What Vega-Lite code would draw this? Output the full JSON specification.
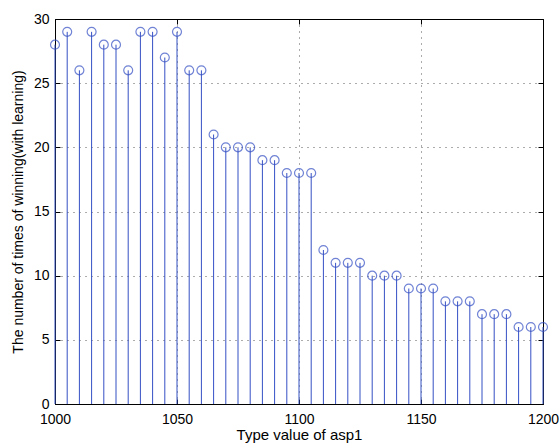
{
  "$schema": "https://vega.github.io/schema/vega-lite/v6.json",
  "autosize": "none",
  "width": 488,
  "height": 385,
  "padding": {"left": 55, "top": 19, "right": 17, "bottom": 40},
  "background": "white",
  "config": {
    "view": {"stroke": "black", "strokeWidth": 1},
    "axis": {
      "labelFont": "Liberation Sans",
      "titleFont": "Liberation Sans",
      "labelFontSize": 14,
      "titleFontSize": 14,
      "labelColor": "black",
      "titleColor": "black",
      "titleFontWeight": "normal",
      "domain": false,
      "tickColor": "black",
      "tickSize": -5,
      "gridColor": "black",
      "gridDash": [1, 5],
      "gridOpacity": 0.65,
      "format": "d"
    }
  },
  "data": {
    "values": [
      {"x": 1000, "y": 28}, {"x": 1005, "y": 29}, {"x": 1010, "y": 26}, {"x": 1015, "y": 29},
      {"x": 1020, "y": 28}, {"x": 1025, "y": 28}, {"x": 1030, "y": 26}, {"x": 1035, "y": 29},
      {"x": 1040, "y": 29}, {"x": 1045, "y": 27}, {"x": 1050, "y": 29}, {"x": 1055, "y": 26},
      {"x": 1060, "y": 26}, {"x": 1065, "y": 21}, {"x": 1070, "y": 20}, {"x": 1075, "y": 20},
      {"x": 1080, "y": 20}, {"x": 1085, "y": 19}, {"x": 1090, "y": 19}, {"x": 1095, "y": 18},
      {"x": 1100, "y": 18}, {"x": 1105, "y": 18}, {"x": 1110, "y": 12}, {"x": 1115, "y": 11},
      {"x": 1120, "y": 11}, {"x": 1125, "y": 11}, {"x": 1130, "y": 10}, {"x": 1135, "y": 10},
      {"x": 1140, "y": 10}, {"x": 1145, "y": 9}, {"x": 1150, "y": 9}, {"x": 1155, "y": 9},
      {"x": 1160, "y": 8}, {"x": 1165, "y": 8}, {"x": 1170, "y": 8}, {"x": 1175, "y": 7},
      {"x": 1180, "y": 7}, {"x": 1185, "y": 7}, {"x": 1190, "y": 6}, {"x": 1195, "y": 6},
      {"x": 1200, "y": 6}
    ]
  },
  "layer": [
    {
      "mark": {"type": "rule", "color": "#3550c4", "strokeWidth": 1},
      "encoding": {
        "x": {
          "field": "x", "type": "quantitative",
          "scale": {"domain": [1000, 1200], "nice": false, "zero": false},
          "axis": {"values": [1000, 1050, 1100, 1150, 1200], "title": "Type value of asp1", "titleFontSize": 15, "grid": true, "labelPadding": 13, "titlePadding": 1, "labelFlush": false}
        },
        "y": {
          "field": "y", "type": "quantitative",
          "scale": {"domain": [0, 30], "nice": false},
          "axis": {"values": [0, 5, 10, 15, 20, 25, 30], "title": "The number of times of winning(with learning)", "grid": true, "labelPadding": 11, "titlePadding": 8, "labelFlush": false}
        },
        "y2": {"datum": 0}
      }
    },
    {
      "mark": {"type": "point", "shape": "circle", "filled": false, "color": "#3550c4", "size": 80, "strokeWidth": 1.2},
      "encoding": {
        "x": {"field": "x", "type": "quantitative", "axis": {"orient": "top", "labels": false, "title": null, "grid": false, "values": [1000, 1050, 1100, 1150, 1200]}},
        "y": {"field": "y", "type": "quantitative", "axis": {"orient": "right", "labels": false, "title": null, "grid": false, "values": [0, 5, 10, 15, 20, 25, 30]}}
      }
    }
  ],
  "resolve": {"axis": {"x": "independent", "y": "independent"}}
}
